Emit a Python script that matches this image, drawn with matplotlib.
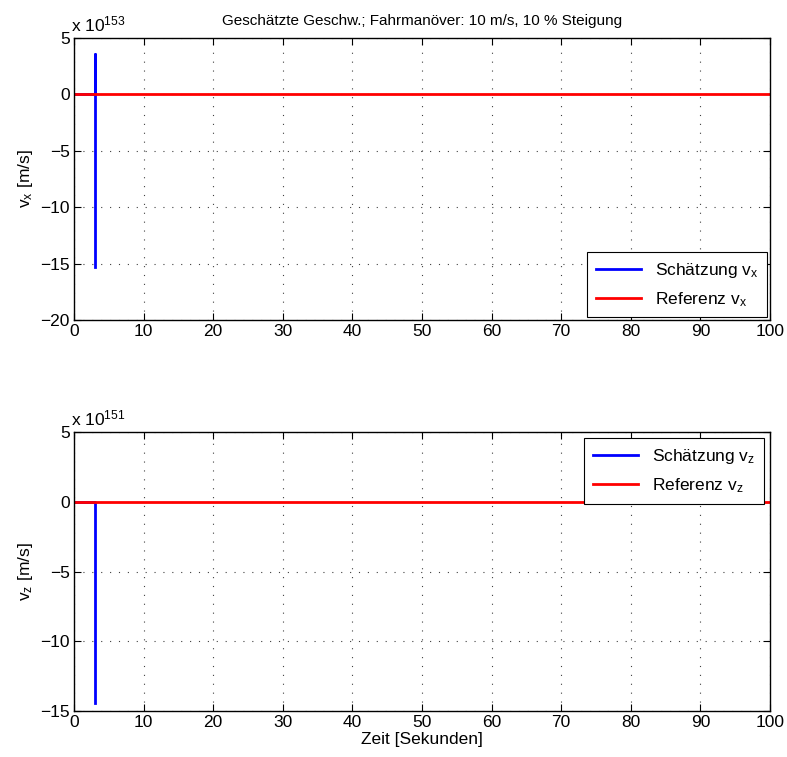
import numpy as np
import matplotlib.pyplot as plt

plt.rcParams['font.family'] = ['Liberation Sans', 'DejaVu Sans']
plt.rcParams['mathtext.fontset'] = 'custom'
plt.rcParams['mathtext.rm'] = 'Liberation Sans'
plt.rcParams['mathtext.it'] = 'Liberation Sans'

# Daten (Schätzung divergiert bei t ~ 3 s)
t_est_x = [0, 3.0, 3.0, 3.0, 3.05]
vx_est = [0, 0, 3.6e153, -15.3e153, np.nan]
t_est_z = [0, 3.0, 3.0, 3.05]
vz_est = [0, 0, -14.4e151, np.nan]
t_ref = [0, 100]
vx_ref = [0, 0]
vz_ref = [0, 0]

exp_x = 153
exp_z = 151

fs = 12.5

fig = plt.figure(figsize=(7.87, 7.57), dpi=100)
ax1 = fig.add_axes([74/787, 1-320/757, 696/787, 282/757])
ax2 = fig.add_axes([74/787, 1-711/757, 696/787, 279/757])

def style(ax, ylim, yticks, exp):
    ax.set_xlim(0, 100)
    ax.set_ylim(*ylim)
    ax.set_xticks(range(0, 101, 10))
    ax.set_yticks(yticks)
    ax.tick_params(direction='in', top=True, right=True, labelsize=fs, length=5, pad=3)
    ax.grid(True, linestyle=(0, (1, 7)), color='0.25', linewidth=0.8)
    ax.text(-0.005, 1.012, r'x 10$^{%d}$' % exp, transform=ax.transAxes,
            fontsize=fs, ha='left', va='bottom')
    for s in ax.spines.values():
        s.set_linewidth(1.0)

ax1.plot(t_est_x, np.array(vx_est) / 10**exp_x, color='blue', lw=2, label=r'Schätzung v$_x$')
ax1.plot(t_ref, np.array(vx_ref) / 10**exp_x, color='red', lw=2, label=r'Referenz v$_x$')
style(ax1, (-20, 5), range(-20, 6, 5), exp_x)
ax1.set_ylabel(r'v$_x$ [m/s]', fontsize=fs, labelpad=4)
ax1.set_title('Geschätzte Geschw.; Fahrmanöver: 10 m/s, 10 % Steigung', fontsize=11, pad=9)
leg1 = ax1.legend(loc='lower right', fontsize=fs, fancybox=False, edgecolor='black',
                  framealpha=1, borderaxespad=0.15, handlelength=2.6, labelspacing=0.6,
                  borderpad=0.5)
leg1.get_frame().set_linewidth(0.8)

ax2.plot(t_est_z, np.array(vz_est) / 10**exp_z, color='blue', lw=2, label=r'Schätzung v$_z$')
ax2.plot(t_ref, np.array(vz_ref) / 10**exp_z, color='red', lw=2, label=r'Referenz v$_z$')
style(ax2, (-15, 5), range(-15, 6, 5), exp_z)
ax2.set_ylabel(r'v$_z$ [m/s]', fontsize=fs, labelpad=4)
ax2.set_xlabel('Zeit [Sekunden]', fontsize=fs, labelpad=1)
leg2 = ax2.legend(loc='upper right', fontsize=fs, fancybox=False, edgecolor='black',
                  framealpha=1, borderaxespad=0.35, handlelength=2.6, labelspacing=0.6,
                  borderpad=0.5)
leg2.get_frame().set_linewidth(0.8)

fig.savefig('out.png', dpi=100)
